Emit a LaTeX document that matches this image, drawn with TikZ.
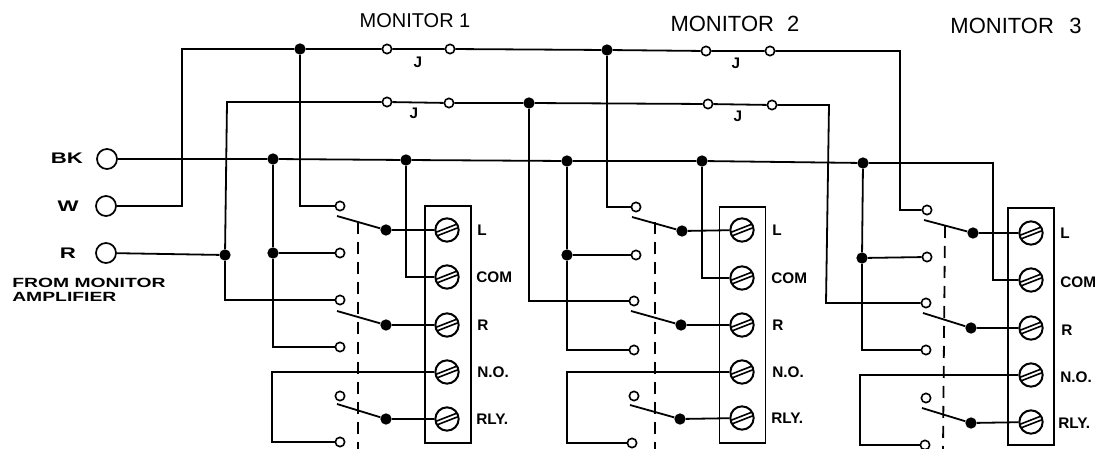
\documentclass[tikz,border=0pt]{standalone}
\usepackage{fontspec}
\setmainfont{Liberation Sans}
\newfontfamily\widefont[FakeStretch=1.45]{Liberation Sans}
\tikzset{
	wire/.style={line width=1.35pt},
	jack/.style={circle,draw,line width=1.3pt,fill=white,inner sep=0pt,minimum size=15pt},
	contact/.style={circle,draw,line width=1.2pt,fill=white,inner sep=0pt,minimum size=7pt},
	dot/.style={circle,fill=black,inner sep=0pt,minimum size=8.5pt},
	strip/.style={rectangle,draw,line width=1.35pt,inner sep=0pt,minimum width=34.5pt,minimum height=177.5pt},
	screw/.style={circle,draw,line width=1.5pt,inner sep=0pt,minimum size=17.5pt,
		path picture={
			\draw[line width=1.2pt] ([xshift=-9pt,yshift=-5pt]path picture bounding box.center) -- ++(18pt,7pt);
			\draw[line width=1.2pt] ([xshift=-9pt,yshift=-2pt]path picture bounding box.center) -- ++(18pt,7pt);
		}},
	lbl/.style={font=\fontsize{11.5}{13}\selectfont\bfseries,inner sep=0pt},
	title/.style={font=\fontsize{15}{17}\selectfont,inner sep=0pt},
	bigtitle/.style={font=\fontsize{16.5}{19}\selectfont,inner sep=0pt}
}
\begin{document}
\begin{tikzpicture}[x=.75pt,y=-.75pt]
	\useasboundingbox (0,0) rectangle (1103,449);
	% titles
	\node[title] (m1) at (415,21) {MONITOR 1};
	\node[bigtitle] (m2) at (735,24) {MONITOR\hspace{.6em}2};
	\node[bigtitle] (m3) at (1016,26) {MONITOR\hspace{.7em}3};
	% input jacks
	\node[lbl] (lbk) at (67,158) {\widefont\bfseries BK};
	\node[lbl] (lw) at (68,206) {\widefont\bfseries W};
	\node[lbl] (lr) at (68,253) {\widefont\bfseries R};
	\node[lbl,anchor=west,align=left,font=\fontsize{10}{10.5}\selectfont] (lamp) at (12,290) {\widefont\bfseries FROM MONITOR\\\widefont\bfseries AMPLIFIER};
	\node[jack] (bk) at (107,159) {};
	\node[jack] (w) at (106,206) {};
	\node[jack] (r) at (106,253) {};
	% terminal strips
	\node[strip] (b1) at (448,324.5) {};
	\node[strip] (b2) at (742.5,325) {};
	\node[strip] (b3) at (1031,326.5) {};
	\node[screw] (t1a) at (447,230) {};
	\node[screw] (t1b) at (447,277) {};
	\node[screw] (t1c) at (447,325) {};
	\node[screw] (t1d) at (447,372) {};
	\node[screw] (t1e) at (447,419) {};
	\node[screw] (t2a) at (742,230) {};
	\node[screw] (t2b) at (742,278) {};
	\node[screw] (t2c) at (742,325) {};
	\node[screw] (t2d) at (742,372) {};
	\node[screw] (t2e) at (742,418) {};
	\node[screw] (t3a) at (1031,233) {};
	\node[screw] (t3b) at (1031,280) {};
	\node[screw] (t3c) at (1031,328) {};
	\node[screw] (t3d) at (1031,375) {};
	\node[screw] (t3e) at (1031,422) {};
	\node[lbl,anchor=west] (l1a) at (477,230) {L};
	\node[lbl,anchor=west] (l1b) at (476,277) {COM};
	\node[lbl,anchor=west] (l1c) at (477,325) {R};
	\node[lbl,anchor=west] (l1d) at (477,372) {N.O.};
	\node[lbl,anchor=west] (l1e) at (476,419) {RLY.};
	\node[lbl,anchor=west] (l2a) at (772,230) {L};
	\node[lbl,anchor=west] (l2b) at (771,278) {COM};
	\node[lbl,anchor=west] (l2c) at (772,325) {R};
	\node[lbl,anchor=west] (l2d) at (772,372) {N.O.};
	\node[lbl,anchor=west] (l2e) at (771,418) {RLY.};
	\node[lbl,anchor=west] (l3a) at (1060,233) {L};
	\node[lbl,anchor=west] (l3b) at (1060,282) {COM};
	\node[lbl,anchor=west] (l3c) at (1061,330) {R};
	\node[lbl,anchor=west] (l3d) at (1060,377) {N.O.};
	\node[lbl,anchor=west] (l3e) at (1058,423) {RLY.};
	% top bus
	\coordinate (c1) at (182,206);
	\coordinate (c2) at (182,49);
	\coordinate (c3) at (900,51);
	\coordinate (c4) at (900,210);
	\node[dot] (d1) at (300,49) {};
	\node[dot] (d2) at (607,50) {};
	\node[contact] (j1) at (387,49) {};
	\node[contact] (j2) at (450,49) {};
	\node[contact] (j3) at (706,51) {};
	\node[contact] (j4) at (770,51) {};
	\node[lbl] (jl1) at (418,62) {J};
	\node[lbl] (jl3) at (736,63) {J};
	% second bus
	\coordinate (c5) at (227,102);
	\coordinate (c6) at (829,105);
	\coordinate (c7) at (826,303);
	\node[dot] (d3) at (529,103) {};
	\node[dot] (d4) at (225,255) {};
	\node[contact] (j5) at (387,102) {};
	\node[contact] (j6) at (449,103) {};
	\node[contact] (j7) at (708,104) {};
	\node[contact] (j8) at (772,105) {};
	\node[lbl] (jl2) at (414,113) {J};
	\node[lbl] (jl4) at (738,116) {J};
	% third bus
	\coordinate (c8) at (993,163);
	\node[dot] (d5) at (273,159) {};
	\node[dot] (d6) at (406,160) {};
	\node[dot] (d7) at (567,161) {};
	\node[dot] (d8) at (702,161) {};
	\node[dot] (d9) at (863,163) {};
	\node[dot] (d10) at (273,253) {};
	\node[dot] (d11) at (567,255) {};
	\node[dot] (d12) at (862,258) {};
	% contacts of the first unit
	\node[contact] (k1a) at (340,206) {};
	\node[contact] (k1b) at (340,253) {};
	\node[contact] (k1c) at (340,300) {};
	\node[contact] (k1d) at (340,347) {};
	\node[contact] (k1e) at (340,396) {};
	\node[contact] (k1f) at (340,442) {};
	\node[dot] (s1a) at (386,230) {};
	\node[dot] (s1b) at (386,325) {};
	\node[dot] (s1c) at (386,419) {};
	\coordinate (a1a) at (337,216);
	\coordinate (a1b) at (337,311);
	\coordinate (a1c) at (337,404);
	% contacts of the second unit
	\node[contact] (k2a) at (636,207) {};
	\node[contact] (k2b) at (636,255) {};
	\node[contact] (k2c) at (634,301) {};
	\node[contact] (k2d) at (634,350) {};
	\node[contact] (k2e) at (634,396) {};
	\node[contact] (k2f) at (632,443) {};
	\node[dot] (s2a) at (682,231) {};
	\node[dot] (s2b) at (681,325) {};
	\node[dot] (s2c) at (680,419) {};
	\coordinate (a2a) at (632,217);
	\coordinate (a2b) at (631,311);
	\coordinate (a2c) at (630,405);
	% contacts of the third unit
	\node[contact] (k3a) at (927,210) {};
	\node[contact] (k3b) at (927,257) {};
	\node[contact] (k3c) at (926,303) {};
	\node[contact] (k3d) at (926,350) {};
	\node[contact] (k3e) at (926,398) {};
	\node[contact] (k3f) at (925,445) {};
	\node[dot] (s3a) at (973,233) {};
	\node[dot] (s3b) at (971,328) {};
	\node[dot] (s3c) at (971,423) {};
	\coordinate (a3a) at (924,220);
	\coordinate (a3b) at (923,313);
	\coordinate (a3c) at (922,408);
	% buses
	\draw[wire] (w) -- (c1) -- (c2) -- (d1) -- (j1) -- (j2) -- (d2) -- (j3) -- (j4) -- (c3) -- (c4) -- (k3a);
	\draw[wire] (r) -- (d4) -- (c5) -- (j5) -- (j6) -- (d3) -- (j7) -- (j8) -- (c6) -- (c7) -- (k3c);
	\draw[wire] (bk) -- (d5) -- (d6) -- (d7) -- (d8) -- (d9) -- (c8) |- (t3b);
	% drops to the first unit
	\draw[wire] (d1) |- (k1a);
	\draw[wire] (d4) |- (k1c);
	\draw[wire] (d5) -- (d10) -- (k1b);
	\draw[wire] (d10) |- (k1d);
	\draw[wire] (d6) |- (t1b);
	\draw[wire] (a1a) -- (s1a) -- (t1a);
	\draw[wire] (a1b) -- (s1b) -- (t1c);
	\draw[wire] (a1c) -- (s1c) -- (t1e);
	\coordinate (n1) at (272,372);
	\draw[wire] (t1d) -- (n1) |- (k1f);
	% drops to the second unit
	\draw[wire] (d2) |- (k2a);
	\draw[wire] (d3) |- (k2c);
	\draw[wire] (d7) -- (d11) -- (k2b);
	\draw[wire] (d11) |- (k2d);
	\draw[wire] (d8) |- (t2b);
	\draw[wire] (a2a) -- (s2a) -- (t2a);
	\draw[wire] (a2b) -- (s2b) -- (t2c);
	\draw[wire] (a2c) -- (s2c) -- (t2e);
	\coordinate (n2) at (567,372);
	\draw[wire] (t2d) -- (n2) |- (k2f);
	% drops to the third unit
	\draw[wire] (d9) -- (d12) -- (k3b);
	\draw[wire] (d12) |- (k3d);
	\draw[wire] (a3a) -- (s3a) -- (t3a);
	\draw[wire] (a3b) -- (s3b) -- (t3c);
	\draw[wire] (a3c) -- (s3c) -- (t3e);
	\coordinate (n3) at (860,375);
	\draw[wire] (t3d) -- (n3) |- (k3f);
	% ganged switches
	\coordinate (g1a) at (358,222);
	\coordinate (g1b) at (358,449);
	\coordinate (g2a) at (655,222);
	\coordinate (g2b) at (655,449);
	\coordinate (g3a) at (945,226);
	\coordinate (g3b) at (943,449);
	\draw[wire,dash pattern=on 9pt off 6pt] (g1a) -- (g1b);
	\draw[wire,dash pattern=on 9pt off 6pt] (g2a) -- (g2b);
	\draw[wire,dash pattern=on 9pt off 6pt] (g3a) -- (g3b);
\end{tikzpicture}
\end{document}
